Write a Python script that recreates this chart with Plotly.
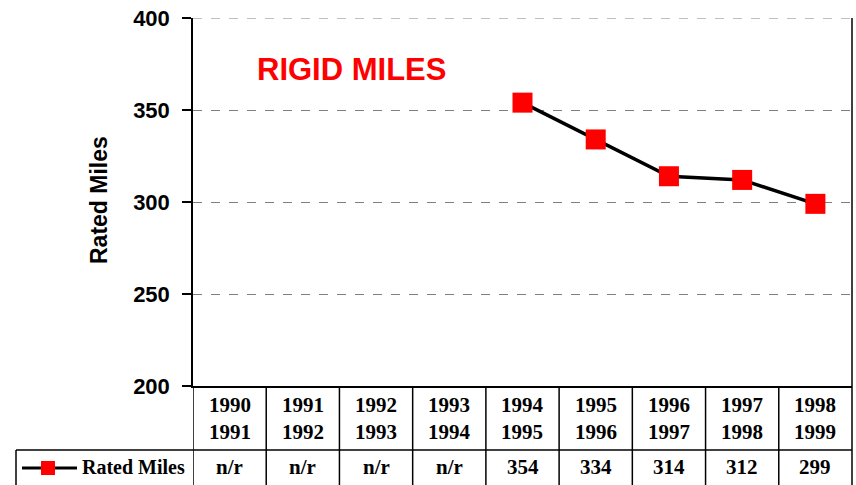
import plotly.graph_objects as go

start_years = [1990, 1991, 1992, 1993, 1994, 1995, 1996, 1997, 1998]
end_years = [1991, 1992, 1993, 1994, 1995, 1996, 1997, 1998, 1999]
rated_miles = [None, None, None, None, 354, 334, 314, 312, 299]
y_ticks = [200, 250, 300, 350, 400]

n = len(start_years)

W, H = 856, 485
L, R, T, B = 193, 4, 18, 99
ph = H - T - B
pw = W - L - R


def py(px_y):
    # pixel row -> paper y
    return (H - B - px_y) / ph


def px_(px_x):
    return (px_x - L) / pw


fig = go.Figure()
fig.add_trace(go.Scatter(
    x=list(range(n)), y=rated_miles, mode='lines+markers',
    line=dict(color='black', width=3.5),
    marker=dict(symbol='square', size=20, color='#ff0000'),
    connectgaps=False, showlegend=False, hoverinfo='skip'))

serif = dict(family='Liberation Serif', size=21, color='black')

shapes = []
# gridline at top edge
shapes.append(dict(type='line', xref='paper', yref='y', x0=0, x1=1, y0=400, y1=400,
                   line=dict(color='#808080', width=1, dash='dash')))
# right border
shapes.append(dict(type='line', xref='paper', yref='paper', x0=1, x1=1, y0=py(486), y1=1,
                   line=dict(color='black', width=1.5)))
# table verticals
for i in range(n):
    shapes.append(dict(type='line', xref='x', yref='paper', x0=i - 0.5, x1=i - 0.5,
                       y0=py(486), y1=0, line=dict(color='black', width=1.5)))
# row separator
shapes.append(dict(type='line', xref='paper', yref='paper', x0=px_(16), x1=1,
                   y0=py(450), y1=py(450), line=dict(color='black', width=1.5)))
# legend cell left border
shapes.append(dict(type='line', xref='paper', yref='paper', x0=px_(16), x1=px_(16),
                   y0=py(450), y1=py(486), line=dict(color='black', width=1.5)))
# legend key
shapes.append(dict(type='line', xref='paper', yref='paper', x0=px_(22), x1=px_(77),
                   y0=py(468), y1=py(468), line=dict(color='black', width=3)))
shapes.append(dict(type='rect', xref='paper', yref='paper', x0=px_(41), x1=px_(55),
                   y0=py(461), y1=py(475), fillcolor='#ff0000', line=dict(width=0)))

annotations = []
for i, (a, b) in enumerate(zip(start_years, end_years)):
    annotations.append(dict(x=i, y=py(418), xref='x', yref='paper', text=f"<b>{a}<br>{b}</b>",
                            xanchor='center', yanchor='middle', showarrow=False, font=serif))
    v = rated_miles[i]
    annotations.append(dict(x=i, y=py(467), xref='x', yref='paper',
                            text='<b>n/r</b>' if v is None else f"<b>{v}</b>",
                            xanchor='center', yanchor='middle', showarrow=False, font=serif))
annotations.append(dict(x=px_(80), y=py(467), xref='paper', yref='paper', xanchor='left',
                        yanchor='middle', text='<b>Rated Miles</b>', showarrow=False,
                        font=dict(family='Liberation Serif', size=20, color='black')))
annotations.append(dict(x=px_(351), y=py(70), xref='paper', yref='paper',
                        xanchor='center', yanchor='middle',
                        text='<b>RIGID MILES</b>', showarrow=False,
                        font=dict(family='Liberation Sans', size=31, color='#ff0000')))
annotations.append(dict(x=px_(99), y=py(200), xref='paper', yref='paper', textangle=-90,
                        xanchor='center', yanchor='middle',
                        text='<b>Rated Miles</b>', showarrow=False,
                        font=dict(family='Liberation Sans', size=23, color='black')))

fig.update_layout(
    width=W, height=H, margin=dict(l=L, r=R, t=T, b=B, autoexpand=False),
    paper_bgcolor='white', plot_bgcolor='white',
    shapes=shapes, annotations=annotations,
    xaxis=dict(range=[-0.5, n - 0.5], showticklabels=False, showgrid=False,
               zeroline=False, showline=True, linecolor='black', linewidth=1.5, ticks=''),
    yaxis=dict(range=[200, 400], tickvals=y_ticks, ticktext=[f"<b>{t}</b>" for t in y_ticks],
               showgrid=True, gridcolor='#808080', griddash='dash', gridwidth=1,
               zeroline=False, showline=True, linecolor='black', linewidth=1.5,
               ticks='outside', ticklen=9, tickcolor='black', tickwidth=1.5,
               ticklabelstandoff=8,
               tickfont=dict(family='Liberation Sans', size=22, color='black')),
)

fig.write_html("out.html", config={'displayModeBar': False},
               post_script="document.body.style.margin='0';")
